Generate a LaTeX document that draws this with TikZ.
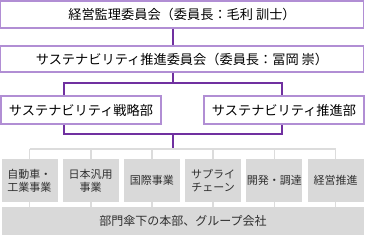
\documentclass[tikz,border=0pt]{standalone}
\usepackage{fontspec}
\setmainfont{Noto Sans CJK JP}
\usetikzlibrary{positioning,calc}
\definecolor{plum}{HTML}{7030A0}
\definecolor{lilac}{HTML}{B18ED4}
\definecolor{boxgray}{HTML}{D9D9D9}
\definecolor{stubgray}{HTML}{DCDCDC}
\definecolor{textgray}{HTML}{303030}

\begin{document}
\begin{tikzpicture}[x=1pt, y=-1pt,
    board/.style={draw=lilac, line width=1.1pt, fill=white, inner sep=0pt, text=black, font=\fontsize{13.2}{15}\selectfont},
    unit/.style={fill=boxgray, minimum width=56pt, minimum height=43pt, inner sep=0pt, align=center, text=textgray, font=\fontsize{11}{13}\selectfont},
    link/.style={draw=plum, line width=2.6pt},
    stub/.style={draw=stubgray, line width=1.6pt}]
    \useasboundingbox (0,0) rectangle (365,238);

    % purple frame behind the two departments
    \coordinate (trunk) at (173,0);
    \coordinate (nw) at (64,83);
    \coordinate (se) at (282,134);
    \coordinate (rail) at (0,149);
    \draw[link] (nw) rectangle (se);

    \node[board, minimum width=363pt, minimum height=27pt] (audit) at (182,14.5) {経営監理委員会（委員長：毛利 訓士）};
    \node[board, minimum width=363pt, minimum height=26pt] (council) at (182,59) {サステナビリティ推進委員会（委員長：冨岡 崇）};
    \node[board, minimum width=160pt, minimum height=28pt] (strategy) at (81,110) {サステナビリティ戦略部};
    \node[board, minimum width=160pt, minimum height=28pt] (promotion) at (284,110) {サステナビリティ推進部};

    \draw[link] (trunk |- audit.south) -- (trunk |- council.north);
    \draw[link] (trunk |- council.south) -- (trunk |- nw);
    \draw[link] (trunk |- se) -- (trunk |- rail);

    % business units
    \foreach \i/\txt in {1/{自動車・\\工業事業}, 2/{日本汎用\\事業}, 3/{国際事業}, 4/{サプライ\\チェーン}, 5/{開発・調達}, 6/{経営推進}}
        \node[unit] (unit\i) at ({29.5+61.2*(\i-1)},180.5) {\txt};

    \node[fill=boxgray, minimum width=362pt, minimum height=28pt, inner sep=0pt, text=textgray, font=\fontsize{12}{14}\selectfont] (group) at (183,221) {部門傘下の本部、グループ会社};

    \draw[stub] (unit1.north |- rail) -- (unit6.north |- rail);
    \foreach \i in {1,...,6} {
        \draw[stub] (unit\i.north |- rail) -- (unit\i.north);
        \draw[stub] (unit\i.south) -- (unit\i.south |- group.north);
    }
\end{tikzpicture}
\end{document}
